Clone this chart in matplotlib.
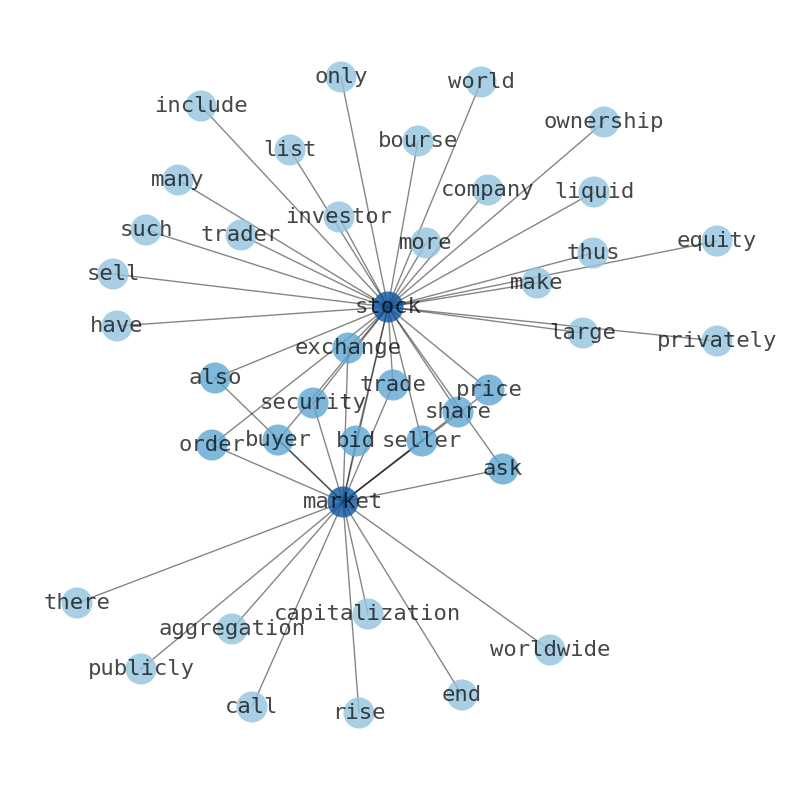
import matplotlib
matplotlib.use("Agg")
import matplotlib.pyplot as plt

# Node layout (pixel-like units, y down)
nodes = ["stock", "market", "only", "world", "include", "ownership", "list",
         "bourse", "many", "company", "liquid", "investor", "such", "trader",
         "more", "thus", "equity", "make", "sell", "have", "large", "privately",
         "exchange", "also", "trade", "price", "security", "share", "order",
         "buyer", "bid", "seller", "ask", "there", "aggregation",
         "capitalization", "publicly", "worldwide", "call", "rise", "end"]
xs = [388, 343, 341, 481, 201, 604, 290, 418, 178, 488, 594, 339, 146, 241,
      426, 593, 717, 537, 113, 117, 583, 717, 348, 215, 393, 489, 313, 458,
      212, 278, 356, 422, 503, 77, 232, 368, 141, 550, 252, 359, 462]
ys = [307, 502, 77, 82, 106, 122, 150, 141, 180, 190, 192, 217, 230, 235,
      243, 253, 241, 283, 274, 326, 333, 341, 348, 378, 385, 390, 403, 412,
      445, 440, 441, 441, 469, 603, 629, 614, 669, 650, 707, 713, 695]

only_stock = ["include", "only", "world", "list", "bourse", "ownership", "many",
              "company", "liquid", "investor", "such", "trader", "more", "thus",
              "equity", "make", "sell", "have", "large", "privately"]
both = ["exchange", "also", "trade", "price", "security", "share", "ask",
        "buyer", "bid", "seller", "order"]
only_market = ["there", "publicly", "aggregation", "call", "capitalization",
               "rise", "end", "worldwide"]

edges = [("stock", "market")]
edges += [("stock", n) for n in only_stock]
edges += [("stock", n) for n in both] + [("market", n) for n in both]
edges += [("market", n) for n in only_market]

pos = {n: (x, y) for n, x, y in zip(nodes, xs, ys)}
degree = {n: 0 for n in nodes}
for a, b in edges:
    degree[a] += 1
    degree[b] += 1

# colour level by degree (Blues)
def level(d):
    if d == 1:
        return 0.40
    if d == 2:
        return 0.53
    return 0.85

fig = plt.figure(figsize=(7.94, 7.90), dpi=100)
ax = fig.add_axes([0, 0, 1, 1])

for a, b in edges:
    ax.plot([pos[a][0], pos[b][0]], [pos[a][1], pos[b][1]],
            color="black", alpha=0.48, lw=1.0, zorder=1)

cmap = plt.cm.Blues
ax.scatter(xs, ys, s=500, c=[cmap(level(degree[n])) for n in nodes],
           alpha=0.8, linewidths=0, zorder=2)

for n in nodes:
    ax.text(pos[n][0], pos[n][1], n, fontsize=16, family="DejaVu Sans Mono",
            color="black", alpha=0.72, ha="center", va="center", zorder=3)

ax.set_xlim(0, 794)
ax.set_ylim(790, 0)
ax.axis("off")

fig.savefig("out.png", dpi=100)
